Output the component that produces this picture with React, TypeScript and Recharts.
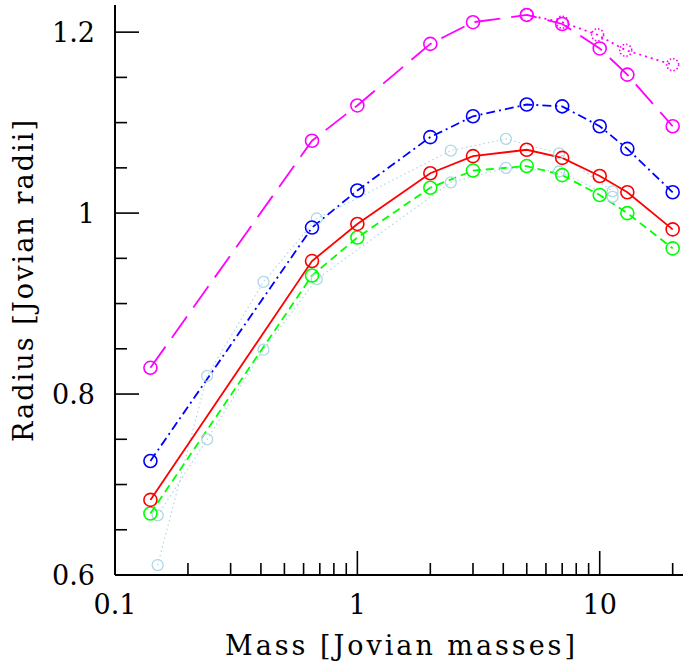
import { LineChart, Line, XAxis, YAxis } from "recharts"

const massGrid = [0.14, 0.65, 1, 2, 3, 5, 7, 10, 13, 20]
const radiusMagenta = [0.829, 1.08, 1.119, 1.187, 1.211, 1.219, 1.209, 1.182, 1.153, 1.096]
const radiusBlue = [0.726, 0.984, 1.025, 1.084, 1.107, 1.12, 1.118, 1.096, 1.071, 1.023]
const radiusRed = [0.683, 0.947, 0.988, 1.044, 1.063, 1.07, 1.061, 1.041, 1.023, 0.982]
const radiusGreen = [0.668, 0.931, 0.973, 1.028, 1.047, 1.052, 1.042, 1.02, 1.0, 0.961]

const massMagentaDotted = [5, 7, 9.8, 12.8, 20]
const radiusMagentaDotted = [1.219, 1.211, 1.197, 1.18, 1.164]

const massLight = [0.15, 0.24, 0.41, 0.68, 2.43, 4.1, 6.8, 11.3]
const radiusLightA = [0.611, 0.82, 0.924, 0.994, 1.069, 1.082, 1.066, 1.024]
const radiusLightB = [0.666, 0.75, 0.849, 0.927, 1.034, 1.05, 1.046, 1.018]

const xTicks = [0.1, 0.2, 0.3, 0.4, 0.5, 0.6, 0.7, 0.8, 0.9, 1, 2, 3, 4, 5, 6, 7, 8, 9, 10, 20]
const xLabels = [0.1, 1, 10]
const yTicks = [0.6, 0.65, 0.7, 0.75, 0.8, 0.85, 0.9, 0.95, 1, 1.05, 1.1, 1.15, 1.2]
const yLabels = [0.6, 0.8, 1, 1.2]

const FONT = "'DejaVu Serif', serif"

const toRows = (ms: number[], rs: number[]) => ms.map((m, i) => ({ m, r: rs[i] }))

function BottomTick({ x, y, payload }: any) {
  const major = xLabels.includes(payload.value)
  return (
    <g>
      <line x1={x} x2={x} y1={y} y2={y - (major ? 24 : 12)} stroke="#000" strokeWidth={1.6} />
      {major && (
        <text x={x} y={y + 39} textAnchor="middle" fontSize={27} fontFamily={FONT} fill="#000">
          {String(payload.value)}
        </text>
      )}
    </g>
  )
}

function TopTick({ x, y, payload }: any) {
  const major = xLabels.includes(payload.value)
  return <line x1={x} x2={x} y1={y} y2={y + (major ? 24 : 12)} stroke="#000" strokeWidth={1.6} />
}

function LeftTick({ x, y, payload }: any) {
  const major = yLabels.includes(payload.value)
  return (
    <g>
      <line x1={x} x2={x + (major ? 24 : 12)} y1={y} y2={y} stroke="#000" strokeWidth={1.6} />
      {major && (
        <text x={x - 20} y={y + 10} textAnchor="end" fontSize={27} fontFamily={FONT} fill="#000">
          {String(payload.value)}
        </text>
      )}
    </g>
  )
}

function RightTick({ x, y, payload }: any) {
  const major = yLabels.includes(payload.value)
  return <line x1={x} x2={x - (major ? 24 : 12)} y1={y} y2={y} stroke="#000" strokeWidth={1.6} />
}

const xDomain: [number, number] = [0.1, 22.7]
const yDomain: [number, number] = [0.6, 1.23]
const axisLine = { stroke: "#000", strokeWidth: 2 }

export default function App() {
  return (
    <div style={{ position: "absolute", left: 0, top: 0, width: 683, height: 666, overflow: "hidden", background: "#fff" }}>
      <LineChart width={690} height={666} margin={{ top: 5, right: 4, bottom: 0, left: 0 }}>
        <XAxis
          xAxisId="b"
          type="number"
          dataKey="m"
          scale="log"
          domain={xDomain}
          allowDataOverflow
          ticks={xTicks}
          interval={0}
          height={91}
          tickSize={0}
          tickMargin={0}
          tickLine={false}
          axisLine={axisLine}
          tick={<BottomTick />}
          label={{
            content: () => (
              <text x={400} y={655} textAnchor="middle" fontSize={27} fontFamily={FONT} textLength={350} lengthAdjust="spacing">
                Mass [Jovian masses]
              </text>
            ),
          }}
        />
        <XAxis
          xAxisId="t"
          orientation="top"
          type="number"
          dataKey="m"
          scale="log"
          domain={xDomain}
          allowDataOverflow
          ticks={xTicks}
          interval={0}
          height={0}
          tickSize={0}
          tickMargin={0}
          tickLine={false}
          axisLine={axisLine}
          tick={<TopTick />}
        />
        <YAxis
          yAxisId="l"
          type="number"
          domain={yDomain}
          allowDataOverflow
          ticks={yTicks}
          interval={0}
          width={115}
          tickSize={0}
          tickMargin={0}
          tickLine={false}
          axisLine={axisLine}
          tick={<LeftTick />}
          label={{
            content: () => (
              <text
                x={33}
                y={281}
                transform="rotate(-90 33 281)"
                textAnchor="middle"
                fontSize={27}
                fontFamily={FONT}
                textLength={322}
                lengthAdjust="spacing"
              >
                Radius [Jovian radii]
              </text>
            ),
          }}
        />
        <YAxis
          yAxisId="r"
          orientation="right"
          type="number"
          domain={yDomain}
          allowDataOverflow
          ticks={yTicks}
          interval={0}
          width={0}
          tickSize={0}
          tickMargin={0}
          tickLine={false}
          axisLine={axisLine}
          tick={<RightTick />}
        />

        <Line
          xAxisId="b"
          yAxisId="l"
          data={toRows(massLight, radiusLightA)}
          dataKey="r"
          stroke="#add8e6"
          strokeWidth={1.2}
          strokeDasharray="1.5 3"
          dot={{ r: 5.5, stroke: "#add8e6", strokeWidth: 1.3, fill: "none", strokeDasharray: "none" }}
          isAnimationActive={false}
        />
        <Line
          xAxisId="b"
          yAxisId="l"
          data={toRows(massLight, radiusLightB)}
          dataKey="r"
          stroke="#add8e6"
          strokeWidth={1.2}
          strokeDasharray="1.5 3"
          dot={{ r: 5.5, stroke: "#add8e6", strokeWidth: 1.3, fill: "none", strokeDasharray: "none" }}
          isAnimationActive={false}
        />
        <Line
          xAxisId="b"
          yAxisId="l"
          data={toRows(massMagentaDotted, radiusMagentaDotted)}
          dataKey="r"
          stroke="#ff00ff"
          strokeWidth={1.8}
          strokeDasharray="2 4"
          dot={{ r: 6, stroke: "#ff00ff", strokeWidth: 1.6, fill: "none", strokeDasharray: "1.5 2" }}
          isAnimationActive={false}
        />
        <Line
          xAxisId="b"
          yAxisId="l"
          data={toRows(massGrid, radiusMagenta)}
          dataKey="r"
          stroke="#ff00ff"
          strokeWidth={1.8}
          strokeDasharray="26 11"
          dot={{ r: 6.5, stroke: "#ff00ff", strokeWidth: 1.6, fill: "none", strokeDasharray: "none" }}
          isAnimationActive={false}
        />
        <Line
          xAxisId="b"
          yAxisId="l"
          data={toRows(massGrid, radiusBlue)}
          dataKey="r"
          stroke="#0000ff"
          strokeWidth={1.8}
          strokeDasharray="9 4 2 4"
          dot={{ r: 6.5, stroke: "#0000ff", strokeWidth: 1.6, fill: "none", strokeDasharray: "none" }}
          isAnimationActive={false}
        />
        <Line
          xAxisId="b"
          yAxisId="l"
          data={toRows(massGrid, radiusGreen)}
          dataKey="r"
          stroke="#00ff00"
          strokeWidth={1.8}
          strokeDasharray="8 5"
          dot={{ r: 6.5, stroke: "#00ff00", strokeWidth: 1.6, fill: "none", strokeDasharray: "none" }}
          isAnimationActive={false}
        />
        <Line
          xAxisId="b"
          yAxisId="l"
          data={toRows(massGrid, radiusRed)}
          dataKey="r"
          stroke="#ff0000"
          strokeWidth={1.8}
          dot={{ r: 6.5, stroke: "#ff0000", strokeWidth: 1.6, fill: "none" }}
          isAnimationActive={false}
        />
      </LineChart>
    </div>
  )
}
